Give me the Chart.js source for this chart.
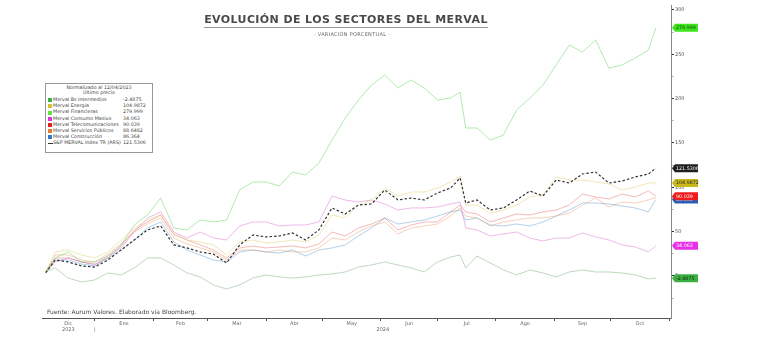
<!DOCTYPE html>
<html>
<head>
<meta charset="utf-8">
<script src="https://cdn.jsdelivr.net/npm/chart.js@4.4.1/dist/chart.umd.min.js"></script>
<style>
  body { margin: 0; background: #fff; }
  #wrap { position: relative; width: 780px; height: 344px; overflow: hidden; font-family: "DejaVu Sans", sans-serif; }
  #chart { position: absolute; left: 0; top: 0; }
  #title { position: absolute; left: 0; width: 692px; top: 13px; text-align: center; font-size: 11px; font-weight: bold; letter-spacing: 0.4px; color: #4a4a4a; }
  #title span { border-bottom: 1px solid #999; padding-bottom: 1px; }
  #subtitle { position: absolute; left: 0; width: 704px; top: 31px; text-align: center; font-size: 5px; letter-spacing: 0.3px; color: #666; }
  #footer { position: absolute; left: 47px; top: 308px; font-size: 6px; color: #444; }
  #legend { position: absolute; left: 45px; top: 83px; width: 106px; height: 68px; border: 1px solid #999; background: #fff; font-size: 4.8px; color: #444; }
  #legend .hd { text-align: center; line-height: 5px; }
  #legend .row { position: relative; height: 6.2px; line-height: 6.2px; padding-left: 7px; }
  #legend .sw { position: absolute; left: 2px; top: 1.2px; width: 4px; height: 4px; }
  #legend .val { position: absolute; left: 77px; top: 0; }
</style>
</head>
<body>
<div id="wrap">
  <canvas id="chart" width="780" height="344"></canvas>
  <div id="title"><span>EVOLUCIÓN DE LOS SECTORES DEL MERVAL</span></div>
  <div id="subtitle">- VARIACIÓN PORCENTUAL -</div>
  <div id="footer">Fuente: Aurum Valores. Elaborado vía Bloomberg.</div>
  <div id="legend"></div>
</div>
<script>
// days since 04/12/2023
const days = [2,7,14,21,28,35,42,49,56,63,70,77,84,91,98,105,112,119,126,133,140,147,154,161,168,175,182,189,196,203,210,217,222,225,231,238,245,252,259,266,273,280,287,294,301,308,315,322,326];

const bsIntermedios = [4.5,9.0,-2.3,-6.8,-4.5,3.4,1.1,9.0,20.3,20.3,12.4,3.4,-1.1,-10.1,-14.7,-10.1,-2.3,1.1,-1.1,-2.3,-1.1,1.1,2.3,4.5,10.1,12.4,15.8,12.4,9.0,4.5,15.8,21.4,23.7,9.0,22.5,14.7,6.8,1.1,6.8,3.4,-1.1,4.5,6.8,4.5,4.5,3.4,1.1,-3.4,-2.4875];
const energia = [4.5,27.1,29.3,23.7,20.3,27.1,40.6,54.1,63.1,68.8,46.2,40.6,38.3,35.0,23.7,38.3,40.6,37.2,38.3,40.6,38.3,46.2,68.8,65.4,80.0,85.7,99.2,90.2,94.7,94.7,99.2,106.0,112.7,80.0,80.0,71.0,74.4,80.0,89.1,91.3,111.6,108.2,108.2,106.0,103.7,97.0,100.3,104.8,104.9872];
const financieras = [4.5,20.3,27.1,15.8,15.8,22.5,35.0,57.5,68.8,87.9,54.1,51.9,63.1,60.9,63.1,97.0,106.0,106.0,101.5,117.2,113.9,127.4,153.3,178.1,198.4,215.3,226.6,212.0,221.0,212.0,198.4,200.7,207.4,166.9,166.9,153.3,159.0,187.1,200.7,215.3,237.9,260.4,252.5,266.1,234.5,237.9,245.8,254.8,279.999];
const consumoMasivo = [4.5,15.8,20.3,15.8,12.4,22.5,31.6,49.6,65.4,72.2,49.6,42.8,49.6,42.8,40.6,56.4,60.9,60.9,56.4,57.5,57.5,60.9,90.2,85.7,83.4,85.7,81.2,74.4,76.7,76.7,77.8,81.2,83.4,54.1,51.9,45.1,47.4,49.6,42.8,39.5,42.8,42.8,48.5,44.0,40.6,35.0,32.7,27.1,34.063];
const telecom = [4.5,20.3,20.3,15.8,13.5,20.3,33.8,51.9,60.9,68.8,47.4,40.6,35.0,29.3,20.3,31.6,33.8,31.6,32.7,33.8,31.6,36.1,49.6,45.1,54.1,58.6,65.4,51.9,57.5,60.9,60.9,72.2,80.0,72.2,69.9,60.9,65.4,69.9,68.8,72.2,74.4,80.0,92.4,89.1,86.8,92.4,89.1,95.8,90.039];
const serviciosPublicos = [4.5,23.7,23.7,18.0,15.8,24.8,36.1,49.6,58.6,65.4,42.8,36.1,31.6,27.1,18.0,29.3,29.3,27.1,29.3,27.1,27.1,31.6,42.8,40.6,49.6,56.4,60.9,47.4,54.1,56.4,58.6,67.6,76.7,67.6,65.4,56.4,60.9,63.1,65.4,65.4,67.6,71.0,80.0,87.9,77.8,83.4,82.3,85.7,88.6482];
const construccion = [4.5,18.0,18.0,13.5,11.3,20.3,29.3,40.6,54.1,60.9,38.3,29.3,23.7,18.0,15.8,27.1,29.3,27.1,25.9,29.3,22.5,29.3,31.6,35.0,45.1,54.1,65.4,58.6,60.9,63.1,67.6,72.2,74.4,63.1,65.4,57.5,56.4,58.6,56.4,60.9,67.6,74.4,82.3,82.3,81.2,78.9,76.7,72.2,86.364];
const mervalTR = [3.4,18.0,15.8,11.3,10.1,18.0,29.3,40.6,51.9,56.4,35.0,31.6,27.1,24.8,14.7,35.0,46.2,44.0,45.1,48.5,40.6,51.9,76.7,69.9,80.0,81.2,97.0,85.7,87.9,85.7,93.6,99.2,110.5,82.3,85.7,74.4,76.7,85.7,95.8,90.2,108.2,104.8,115.0,117.2,104.8,107.1,111.6,115.0,121.5306];

const monthStarts = [28,59,88,119,149,180,210,241,272,302,333];
const monthMids = [14,43.5,73.5,103.5,134,164.5,195,225.5,256.5,287,317.5];
const monthLabels = ['Dic','Ene','Feb','Mar','Abr','May','Jun','Jul','Ago','Sep','Oct'];
const yearDays = [14,181];
const yearLabels = ['2023','2024'];
const yTicks = [-25,0,25,50,75,100,125,150,175,200,225,250,275,300];

const series = [
  { name: 'Merval Bs Intermedios', data: bsIntermedios, line: 'rgba(110,170,110,0.45)', sw: '#3cb043', badge: '#3cb043', txt: '#102a10' },
  { name: 'Merval Energía', data: energia, line: 'rgba(215,195,70,0.38)', sw: '#d4c030', badge: '#c9b81c', txt: '#222' },
  { name: 'Merval Financieras', data: financieras, line: 'rgba(80,210,80,0.45)', sw: '#5ee63c', badge: '#3ee51e', txt: '#114411' },
  { name: 'Merval Consumo Masivo', data: consumoMasivo, line: 'rgba(210,80,200,0.4)', sw: '#dd33dd', badge: '#e632e6', txt: '#fff' },
  { name: 'Merval Telecomunicaciones', data: telecom, line: 'rgba(225,60,60,0.36)', sw: '#dd2222', badge: '#ee1c1c', txt: '#fff' },
  { name: 'Merval Servicios Públicos', data: serviciosPublicos, line: 'rgba(230,130,60,0.36)', sw: '#e87a30', badge: '#e8742a', txt: '#fff' },
  { name: 'Merval Construcción', data: construccion, line: 'rgba(60,140,205,0.4)', sw: '#3377cc', badge: '#2a5fb4', txt: '#fff' },
  { name: 'S&P MERVAL Index TR (ARS)', data: mervalTR, line: '#333', sw: null, badge: '#1e1e1e', txt: '#fff', dash: true }
];

// legend
const legendEl = document.getElementById('legend');
legendEl.innerHTML = '<div class="hd" style="margin-top:1px">Normalizado al 12/04/2023</div><div class="hd" style="margin-bottom:2px">Último precio</div>' +
  series.map(s => {
    const sw = s.sw ? `<span class="sw" style="background:${s.sw}"></span>`
                    : `<span class="sw" style="border-top:1px dashed #333;height:0;top:3px;width:5px"></span>`;
    return `<div class="row">${sw}${s.name}<span class="val">${s.data[s.data.length - 1]}</span></div>`;
  }).join('');

const datasets = series.map(s => ({
  label: s.name,
  data: days.map((d, i) => ({ x: d, y: s.data[i] })),
  borderColor: s.line,
  borderWidth: s.dash ? 1.2 : 1,
  borderDash: s.dash ? [2.5, 2] : [],
  pointRadius: 0,
  tension: 0,
  order: s.dash ? 0 : 1
}));

const badgeOrder = [2, 7, 1, 5, 6, 4, 3, 0];
const badgePlugin = {
  id: 'badges',
  afterDraw(chart) {
    const ctx = chart.ctx;
    const ys = chart.scales.y;
    const x0 = chart.chartArea.right + 1;
    ctx.save();
    ctx.font = '4.8px "DejaVu Sans"';
    ctx.textBaseline = 'middle';
    badgeOrder.forEach(i => {
      const s = series[i];
      const v = s.data[s.data.length - 1];
      const y = ys.getPixelForValue(v);
      ctx.fillStyle = s.badge;
      ctx.beginPath();
      ctx.moveTo(x0, y);
      ctx.lineTo(x0 + 3, y - 4);
      ctx.lineTo(x0 + 26, y - 4);
      ctx.lineTo(x0 + 26, y + 4);
      ctx.lineTo(x0 + 3, y + 4);
      ctx.closePath();
      ctx.fill();
      ctx.fillStyle = s.txt;
      ctx.fillText(String(v), x0 + 4, y + 0.3);
    });
    ctx.restore();
  }
};

new Chart(document.getElementById('chart'), {
  type: 'line',
  data: { datasets },
  options: {
    responsive: false,
    animation: false,
    layout: { padding: { left: 42, top: 5, right: 0, bottom: 0 } },
    plugins: { legend: { display: false }, tooltip: { enabled: false } },
    scales: {
      x: {
        type: 'linear', min: 0, max: 334,
        afterBuildTicks: scale => {
          scale.ticks = monthStarts.concat(monthMids, [yearDays[1]]).sort((a, b) => a - b).map(v => ({ value: v }));
        },
        afterFit: scale => { scale.height = 26; },
        border: { color: '#555', width: 1 },
        grid: {
          drawOnChartArea: false, tickLength: 3,
          tickColor: c => monthStarts.includes(c.tick.value) ? '#555' : 'rgba(0,0,0,0)'
        },
        ticks: {
          autoSkip: false, maxRotation: 0, padding: 0,
          font: { family: 'DejaVu Sans', size: 5 }, color: '#666',
          callback: v => {
            const m = monthMids.indexOf(v);
            if (m >= 0) return v === yearDays[0] ? [monthLabels[m], yearLabels[0]] : monthLabels[m];
            if (v === yearDays[1]) return ['', yearLabels[1]];
            if (v === monthStarts[0]) return ['', '|'];
            return '';
          }
        }
      },
      y: {
        position: 'right', min: -47.4, max: 305.6,
        afterBuildTicks: scale => { scale.ticks = yTicks.map(v => ({ value: v })); },
        afterFit: scale => { scale.width = 109; },
        border: { color: '#888', width: 1 },
        grid: {
          drawOnChartArea: false, tickLength: 3,
          tickColor: c => c.tick.value % 50 === 0 ? '#333' : '#bbb'
        },
        ticks: {
          padding: 1, font: { family: 'DejaVu Sans', size: 5 }, color: '#555',
          callback: v => (v % 50 === 0 && v >= 0) ? String(v) : ''
        }
      }
    }
  },
  plugins: [badgePlugin]
});
</script>
</body>
</html>
